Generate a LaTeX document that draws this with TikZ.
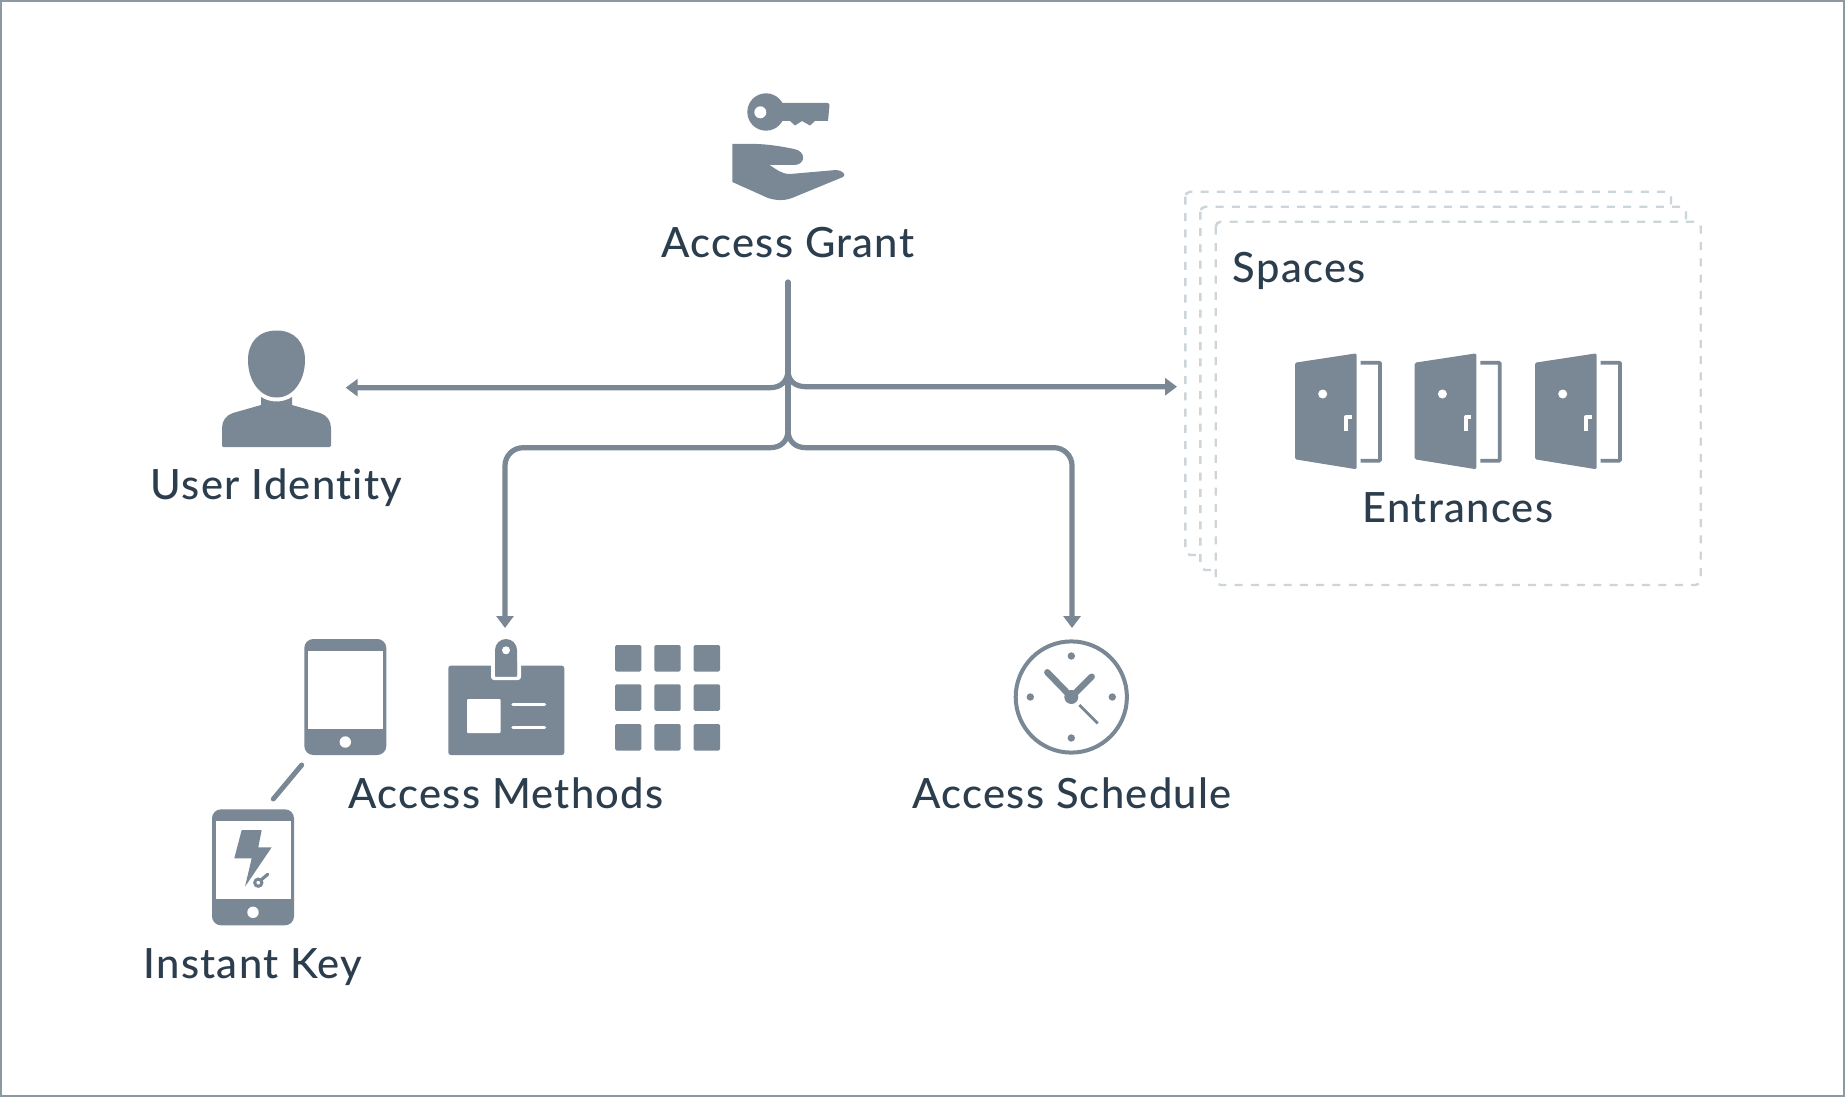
\documentclass[tikz,border=0pt]{standalone}
\usepackage{fontspec}
\setmainfont[LetterSpace=3,Ligatures={NoCommon}]{Lato Medium}
\usetikzlibrary{arrows.meta}
\definecolor{ico}{RGB}{122,136,150}
\definecolor{txt}{RGB}{44,62,78}
\definecolor{dash}{RGB}{204,213,218}
\definecolor{frame}{RGB}{138,154,160}
\tikzset{
  x=1pt,y=-1pt,
  lbl/.style={text=txt,font=\fontsize{41.7}{50}\selectfont,inner sep=0pt,anchor=base},
  wire/.style={draw=ico,line width=5.2pt},
  tipwire/.style={wire,-{Triangle[length=12pt,width=17pt]}},
  solid ico/.style={fill=ico,draw=none},
  hole/.style={fill=white,draw=none},
  dashbox/.style={draw=dash,fill=white,line width=2.4pt,rounded corners=5pt,dash pattern=on 8pt off 8.3pt},
}
\newcommand{\doorico}[1]{%
  \begin{scope}[shift={(#1,0)}]
    \fill[solid ico,rounded corners=1.5pt] (1295,362.7) -- (1356.7,353.3) -- (1356.7,469.3) -- (1295,459.3) -- cycle;
    \fill[hole] (1322.7,394) circle (4.5);
    \draw[white,line width=4pt,line join=round] (1346,431) -- (1346,417.3) -- (1351.5,417.3);
    \draw[ico,line width=3.8pt,rounded corners=1pt] (1360.7,362.7) -- (1380,362.7) -- (1380,460.7) -- (1360.7,460.7);
  \end{scope}}
\newcommand{\deviceico}[2]{%
  \begin{scope}[shift={(#1,#2)}]
    \fill[solid ico,rounded corners=9pt] (0,0) rectangle (82,116);
    \fill[hole] (3.7,11.5) rectangle (78.7,90);
    \fill[hole] (41,103) circle (5.7);
  \end{scope}}
\begin{document}
\begin{tikzpicture}
\useasboundingbox (0,0) rectangle (1845,1097);
\fill[white] (0,0) rectangle (1845,1097);
\draw[frame,line width=2pt] (1,1) rectangle (1844,1096);

% spaces stack
\draw[dashbox] (1185.3,191.7) rectangle (1671,555);
\draw[dashbox] (1200.3,206.7) rectangle (1686,570);
\draw[dashbox] (1215.7,221.7) rectangle (1700.7,585);

% key
\fill[solid ico] (766,112) circle (18.7);
\fill[solid ico] (775,103) -- (827,103) to[out=0,in=90] (829.5,105) -- (828,121) -- (815,121) -- (810,125.5) -- (802,121) -- (795,125.5) -- (790,121) -- (775,121) -- cycle;
\fill[hole] (760.3,112.3) circle (6);
% hand
\fill[solid ico] (732.3,144) -- (757,144) .. controls (770,144.5) and (782,146.5) .. (794,149) .. controls (806,151) and (806,164) .. (795,165) -- (769.5,165) .. controls (776,169) and (781,174) .. (790,174) -- (836,170) .. controls (842,170) and (847,175) .. (843,177) -- (792,198) .. controls (784,201) and (776,200.5) .. (768,198) -- (732.3,182) -- cycle;
\node[lbl] (grant) at (788,257) {Access Grant};

% person
\fill[solid ico] (276.7,330.5) .. controls (295,330.5) and (305,343) .. (305,360) .. controls (305,381) and (293,397.5) .. (276.7,397.5) .. controls (260,397.5) and (248,381) .. (248,360) .. controls (248,343) and (258,330.5) .. (276.7,330.5) -- cycle;
\fill[solid ico] (261,397) .. controls (270,403) and (283,403) .. (292,397) -- (292,405) -- (320,413) .. controls (327,415) and (331,421) .. (331,428) -- (331,445) [rounded corners=1.5pt] -- (331,447) -- (222,447) -- (222,445) [sharp corners] -- (222,428) .. controls (222,421) and (226,415) .. (233,413) -- (261,405) -- cycle;
\node[lbl] (user) at (276.5,499.3) {User Identity};

% connectors
\coordinate (stem) at (788,282);
\coordinate (j1) at (788,370);
\coordinate (j2) at (788,430);
\coordinate (up l) at (770,387.7);
\coordinate (up r) at (806,386.7);
\coordinate (lo l) at (770,447.7);
\coordinate (lo r) at (806,447.7);
\coordinate (user tip) at (345.7,387.7);
\coordinate (space tip) at (1177,386.7);
\coordinate (meth corner) at (505,447.7);
\coordinate (sched corner) at (1072,447.7);
\coordinate (meth tip) at (505,628);
\coordinate (sched tip) at (1072,628);
\draw[wire,line cap=round] (stem) -- (j2);
\draw[tipwire] (j1) .. controls +(0,11) and +(11,0) .. (up l) -- (user tip);
\draw[tipwire] (j1) .. controls +(0,11) and +(-11,0) .. (up r) -- (space tip);
\draw[tipwire,rounded corners=18pt] (lo l) -- (meth corner) -- (meth tip);
\draw[tipwire,rounded corners=18pt] (lo r) -- (sched corner) -- (sched tip);
\draw[wire] (j2) .. controls +(0,11) and +(11,0) .. (lo l);
\draw[wire] (j2) .. controls +(0,11) and +(-11,0) .. (lo r);

% spaces content
\node[lbl,anchor=base west] (spaces) at (1232.7,282.7) {Spaces};
\doorico{0}\doorico{119.7}\doorico{240}
\node[lbl] (entr) at (1458,522.7) {Entrances};

% tablet, phone
\deviceico{304.3}{639}
\coordinate (link a) at (301.7,765);
\coordinate (link b) at (273.3,799);
\draw[ico,line width=5pt,line cap=round] (link a) -- (link b);
\deviceico{212}{809.3}
\fill[solid ico] (241.7,830) -- (261.7,830) -- (258.3,847.3) -- (271.7,847.3) -- (245,886.7) -- (251.7,858.3) -- (234.3,858.3) -- cycle;
\draw[ico,line width=3pt] (258.3,882.7) circle (3.6);
\draw[ico,line width=3.2pt,line cap=round] (261,880) -- (267.7,874.3);
\node[lbl] (instant) at (253,978) {Instant Key};

% badge
\fill[solid ico,rounded corners=2.5pt] (448.3,665.7) rectangle (564.3,755);
\fill[hole,rounded corners=3pt] (491,660) rectangle (521,680);
\fill[solid ico,rounded corners=11pt] (495,676.7) -- (495,639) -- (517,639) -- (517,676.7);
\fill[solid ico,rounded corners=2pt] (495,660) rectangle (517,676.7);
\fill[hole] (506,650.3) circle (4);
\fill[hole,rounded corners=1pt] (467,699) rectangle (500.7,733);
\draw[white,line width=3.5pt,line cap=round] (513,704.7) -- (544.5,704.7);
\draw[white,line width=3.5pt,line cap=round] (513,727.3) -- (544.5,727.3);
\node[lbl] (methods) at (506,808) {Access Methods};

% keypad
\foreach \kx in {615,654.3,693.7}
  \foreach \ky in {645,684.3,724}
    \fill[solid ico,rounded corners=1.5pt] (\kx,\ky) rectangle ++(26.4,26.5);

% clock
\draw[ico,line width=4pt] (1071.3,697) circle (55.6);
\foreach \dx/\dy in {0/-41,41/0,0/41,-41/0}
  \fill[solid ico] (1071.3+\dx,697+\dy) circle (3.7);
\draw[ico,line width=6.4pt,line cap=round,line join=round] (1047.3,672.3) -- (1071.3,697) -- (1091.7,676.7);
\fill[solid ico] (1071.3,697) circle (7);
\draw[ico,line width=2.8pt] (1079.3,705) -- (1097.7,723.3);
\node[lbl] (sched) at (1072,808) {Access Schedule};
\end{tikzpicture}
\end{document}
